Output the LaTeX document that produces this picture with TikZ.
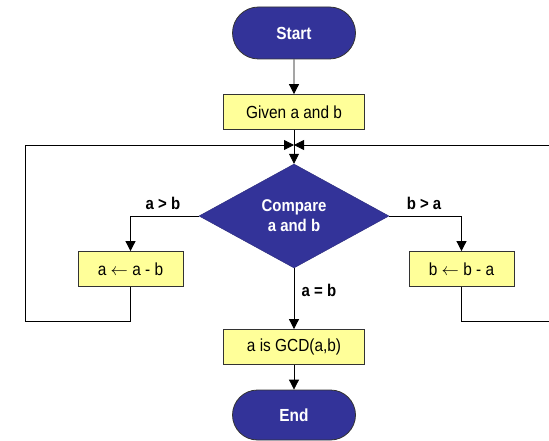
\documentclass[tikz,border=0pt]{standalone}
\usepackage{fontspec}
\setmainfont[FakeStretch=0.88]{Liberation Sans}
\usetikzlibrary{shapes.geometric,shapes.misc,arrows.meta}
\definecolor{navy}{HTML}{333399}
\definecolor{pale}{HTML}{FFFF99}
\tikzset{
  term/.style={rounded rectangle, draw=black!80, line width=0.8pt, fill=navy, text=white, font=\fontsize{17.5}{19}\selectfont\bfseries, minimum width=123pt, minimum height=52pt, inner sep=0pt},
  proc/.style={rectangle, draw=black!80, line width=0.8pt, fill=pale, font=\fontsize{17.5}{19}\selectfont, minimum height=35pt, inner sep=0pt},
  dec/.style={diamond, draw=navy!80!black, fill=navy, text=white, font=\fontsize{17}{19}\selectfont\bfseries, align=center, minimum width=190pt, minimum height=104pt, inner sep=0pt},
  lbl/.style={font=\fontsize{17}{19}\selectfont\bfseries},
  conn/.style={line width=0.8pt, -{Triangle[length=10pt,width=10pt]}},
  plain/.style={line width=0.8pt}
}
\begin{document}
\begin{tikzpicture}[x=1pt,y=-1pt]
\useasboundingbox (0,0) rectangle (549,441);
\clip (0,0) rectangle (549,441);
\node[term] (start) at (294,33) {Start};
\node[proc, minimum width=141pt] (given) at (294,112) {Given a and b};
\coordinate (junc) at (294,145);
\node[dec] (cmp) at (294,216) {Compare\\[1pt]a and b};
\node[proc, minimum width=105pt] (left) at (130.5,269) {a $\leftarrow$ a - b};
\node[proc, minimum width=105pt] (right) at (461.5,269) {b $\leftarrow$ b - a};
\node[proc, minimum width=141pt] (gcd) at (294,347) {a is GCD(a,b)};
\node[term, minimum height=50pt] (end) at (294,415) {End};
\coordinate (lb) at (130.5,321);
\coordinate (ll) at (25,321);
\coordinate (lt) at (25,145);
\coordinate (rb) at (461.5,321);
\coordinate (rr) at (560,321);
\coordinate (rt) at (560,145);
\draw[conn] (start) -- (given);
\draw[plain] (given) -- (junc);
\draw[conn] (junc) -- (cmp.north);
\draw[conn] (cmp.west) -| (left.north);
\draw[conn] (cmp.east) -| (right.north);
\draw[conn] (cmp.south) -- (gcd.north);
\draw[conn] (gcd) -- (end);
\draw[conn] (left.south) -- (lb) -- (ll) -- (lt) -- (junc);
\draw[conn] (right.south) -- (rb) -- (rr) -- (rt) -- (junc);
\node[lbl] (l1) at (163,203) {a > b};
\node[lbl] (l2) at (424,203) {b > a};
\node[lbl] (l3) at (319,290) {a = b};
\end{tikzpicture}
\end{document}
